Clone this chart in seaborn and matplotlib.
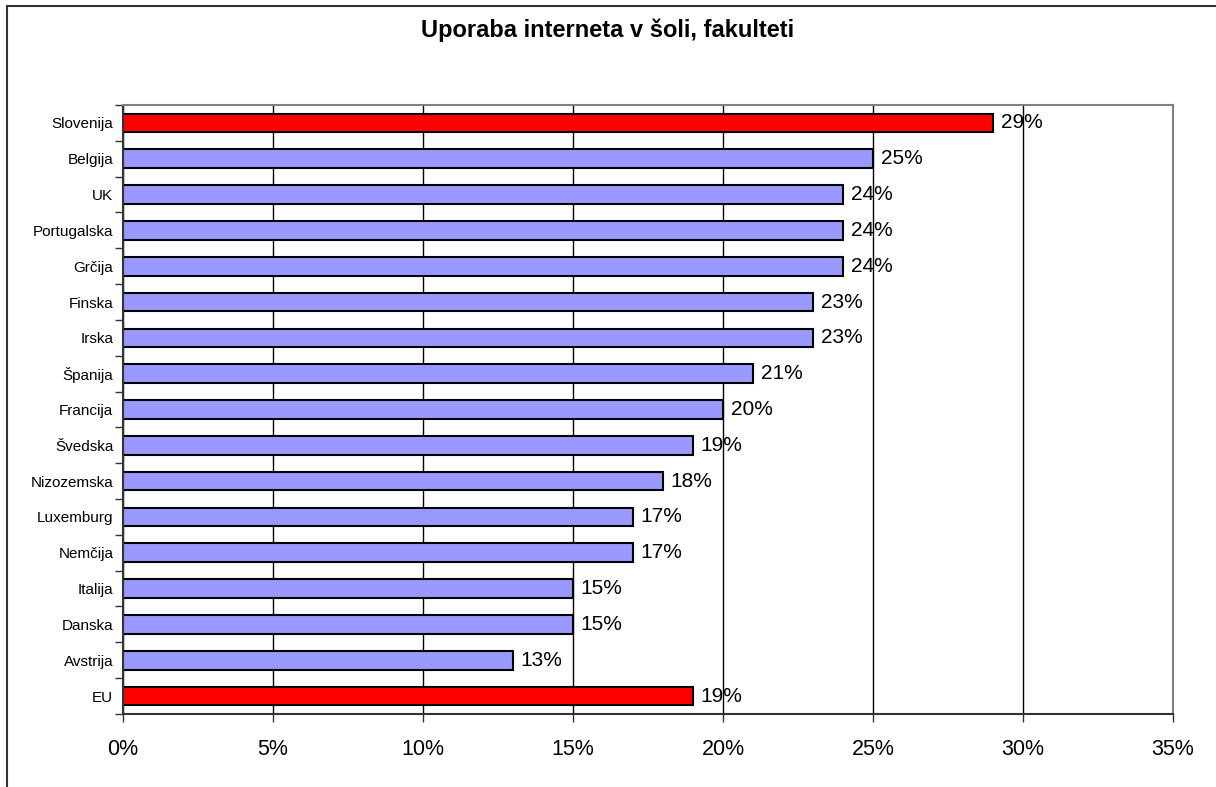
import matplotlib
matplotlib.use("Agg")
import matplotlib.pyplot as plt
import seaborn as sns
import pandas as pd
from matplotlib.ticker import FuncFormatter, FixedLocator
from matplotlib.patches import Rectangle

# Data
countries = ["Slovenija", "Belgija", "UK", "Portugalska", "Grčija", "Finska", "Irska",
             "Španija", "Francija", "Švedska", "Nizozemska", "Luxemburg", "Nemčija",
             "Italija", "Danska", "Avstrija", "EU"]
values = [29, 25, 24, 24, 24, 23, 23, 21, 20, 19, 18, 17, 17, 15, 15, 13, 19]
highlight = ["Slovenija", "EU"]

BLUE = "#9999FF"
RED = "#FF0000"

df = pd.DataFrame({"country": countries, "value": values})
palette = {c: (RED if c in highlight else BLUE) for c in countries}

sns.set_style("white")
plt.rcParams["font.family"] = ["Liberation Sans", "DejaVu Sans"]
plt.rcParams["text.color"] = "black"
plt.rcParams["xtick.color"] = "black"
plt.rcParams["ytick.color"] = "black"

fig = plt.figure(figsize=(12.16, 7.87), dpi=100)
ax = fig.add_axes([0.1012, 0.0928, 0.8635, 0.7738])

sns.barplot(data=df, x="value", y="country", hue="country", palette=palette,
            order=countries, legend=False, width=0.52, edgecolor="black",
            linewidth=1.5, saturation=1, ax=ax)

ax.set_xlim(0, 35)
ax.set_ylim(len(countries) - 0.5, -0.5)
ax.set_xticks(range(0, 36, 5))
ax.xaxis.set_major_formatter(FuncFormatter(lambda v, p: f"{int(v)}%"))
ax.xaxis.grid(True, color="black", linewidth=1)
ax.set_axisbelow(True)
ax.set_xlabel("")
ax.set_ylabel("")

# ticks at category boundaries, labels at centres
ax.yaxis.set_major_locator(FixedLocator([i - 0.5 for i in range(len(countries) + 1)]))
ax.yaxis.set_minor_locator(FixedLocator(range(len(countries))))
ax.yaxis.set_minor_formatter(FuncFormatter(lambda v, p: countries[int(round(v))]))
ax.yaxis.set_major_formatter(FuncFormatter(lambda v, p: ""))
ax.tick_params(axis="y", which="major", direction="out", length=6, width=1, color="#333333", left=True)
ax.tick_params(axis="y", which="minor", length=0, labelsize=11, pad=7, left=True)
ax.tick_params(axis="x", direction="out", length=6, width=1, color="#333333", labelsize=15.5, pad=12, bottom=True)

for side in ["left", "bottom"]:
    ax.spines[side].set_color("#333333")
    ax.spines[side].set_linewidth(1.5)
for side in ["top", "right"]:
    ax.spines[side].set_color("#808080")
    ax.spines[side].set_linewidth(1.5)

for i, v in enumerate(values):
    ax.text(v + 0.25, i, f"{v}%", va="center", ha="left", fontsize=15)

fig.text(0.5, 0.962, "Uporaba interneta v šoli, fakulteti", ha="center", va="center",
         fontsize=17, fontweight="bold")

# outer chart border (only top and left edges fall inside the image)
fig.add_artist(Rectangle((0.0058, -0.02), 1.1, 1.012, transform=fig.transFigure,
                         fill=False, edgecolor="#333333", linewidth=1.5))

fig.savefig("out.png", dpi=100, facecolor="white")
